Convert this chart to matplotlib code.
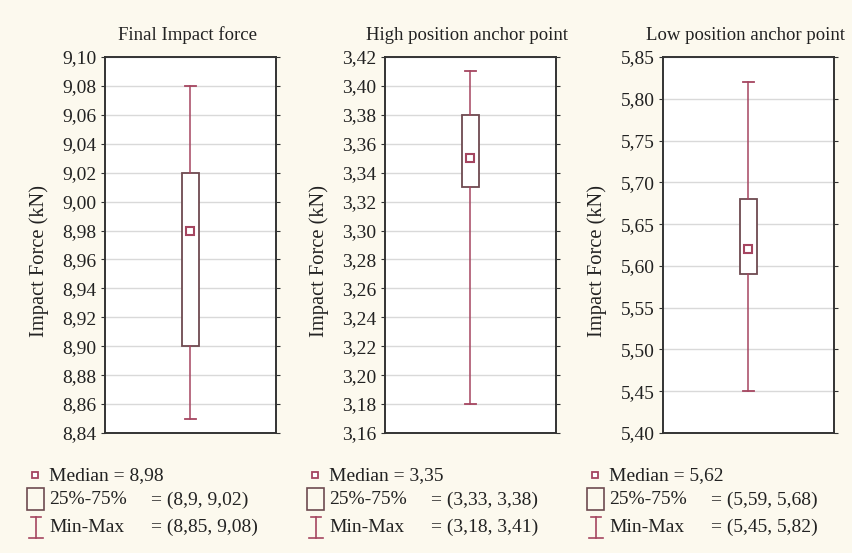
import matplotlib
matplotlib.use("Agg")
import matplotlib.pyplot as plt
from matplotlib.ticker import FuncFormatter, MultipleLocator
from matplotlib.lines import Line2D
from matplotlib.patches import Rectangle
import numpy as np

titles = ["Final Impact force", "High position anchor point", "Low position anchor point"]
medians = [8.98, 3.35, 5.62]
q1 = [8.90, 3.33, 5.59]
q3 = [9.02, 3.38, 5.68]
mins = [8.85, 3.18, 5.45]
maxs = [9.08, 3.41, 5.82]
ylims = [(8.84, 9.10), (3.16, 3.42), (5.40, 5.85)]
ysteps = [0.02, 0.02, 0.05]
ylabel = "Impact Force (kN)"

W, H = 853, 553
BG = "#fcf9ee"
BOXC = "#6e4a50"
WHC = "#a54560"
plt.rcParams['font.family'] = ['Liberation Serif', 'DejaVu Serif']

fig = plt.figure(figsize=(W / 100, H / 100), dpi=100, facecolor=BG)

lefts = [105, 385, 663]
ax_w = 171
ax_top, ax_bot = 57, 433

def fx(px):
    return px / W

def fy(py):
    return 1 - py / H

def comma(v, decimals=2):
    return f"{v:.{decimals}f}".replace('.', ',')

def gfmt(v):
    return f"{v:g}".replace('.', ',')

for i in range(3):
    ax = fig.add_axes([fx(lefts[i]), fy(ax_bot), ax_w / W, (ax_bot - ax_top) / H])
    ax.set_facecolor("white")
    stats = [dict(med=medians[i], q1=q1[i], q3=q3[i], whislo=mins[i], whishi=maxs[i], fliers=[])]
    ax.bxp(stats, positions=[0], widths=0.105, showfliers=False, patch_artist=True,
           boxprops=dict(facecolor="white", edgecolor=BOXC, linewidth=1.3),
           whiskerprops=dict(color=WHC, linewidth=1.1),
           capprops=dict(color=WHC, linewidth=1.3),
           medianprops=dict(linewidth=0), capwidths=0.06, zorder=3)
    ax.plot([0], [medians[i]], marker='s', ms=6, mfc='white', mec=WHC, mew=1.5, ls='', zorder=4)
    ax.set_xlim(-0.5, 0.5)
    ax.set_ylim(*ylims[i])
    ax.yaxis.set_major_locator(MultipleLocator(ysteps[i]))
    ax.yaxis.set_major_formatter(FuncFormatter(lambda v, p: comma(v)))
    ax.set_xticks([])
    ax.grid(axis='y', color="#d9d9d9", linewidth=1.0)
    ax.set_axisbelow(True)
    ax.tick_params(axis='y', which='both', direction='out', length=3, width=0.8,
                   labelsize=14, pad=3, right=True, colors="#333333")
    ax.tick_params(axis='y', labelcolor="#222222")
    for s in ax.spines.values():
        s.set_color("#333333")
        s.set_linewidth(1.4)
    ax.set_title(titles[i], fontsize=13.5, pad=12, color="#222222", x=0.48)
    ax.set_ylabel(ylabel, fontsize=14.8, color="#222222")
    ax.yaxis.set_label_coords(-0.33, 0.457)

    off = [0, 280, 560][i]
    # legend: median
    fig.add_artist(Line2D([fx(35 + off)], [fy(475)], marker='s', ms=5, mfc='white',
                          mec=WHC, mew=1.3, ls='', transform=fig.transFigure))
    fig.text(fx(49 + off), fy(476), f"Median = {gfmt(medians[i])}", fontsize=14,
             va='center', ha='left', color="#222222")
    # legend: box
    fig.add_artist(Rectangle((fx(27 + off), fy(510)), 17 / W, 22 / H, facecolor='none',
                             edgecolor=BOXC, linewidth=1.2, transform=fig.transFigure))
    fig.text(fx(49 + off), fy(500), "25%-75%", fontsize=14, va='center', ha='left', color="#222222")
    fig.text(fx(151 + off), fy(500), f"= ({gfmt(q1[i])}, {gfmt(q3[i])})", fontsize=14,
             va='center', ha='left', color="#222222")
    # legend: min-max
    cx = fx(36 + off)
    fig.add_artist(Line2D([cx, cx], [fy(517), fy(538)], color=WHC, lw=1.2, transform=fig.transFigure))
    fig.add_artist(Line2D([fx(31 + off), fx(41 + off)], [fy(517), fy(517)], color=WHC, lw=1.2,
                          transform=fig.transFigure))
    fig.add_artist(Line2D([fx(29 + off), fx(43 + off)], [fy(538), fy(538)], color=WHC, lw=1.2,
                          transform=fig.transFigure))
    fig.text(fx(49 + off), fy(527), "Min-Max", fontsize=14, va='center', ha='left', color="#222222")
    fig.text(fx(151 + off), fy(527), f"= ({gfmt(mins[i])}, {gfmt(maxs[i])})", fontsize=14,
             va='center', ha='left', color="#222222")

fig.savefig("out.png", dpi=100, facecolor=BG)
